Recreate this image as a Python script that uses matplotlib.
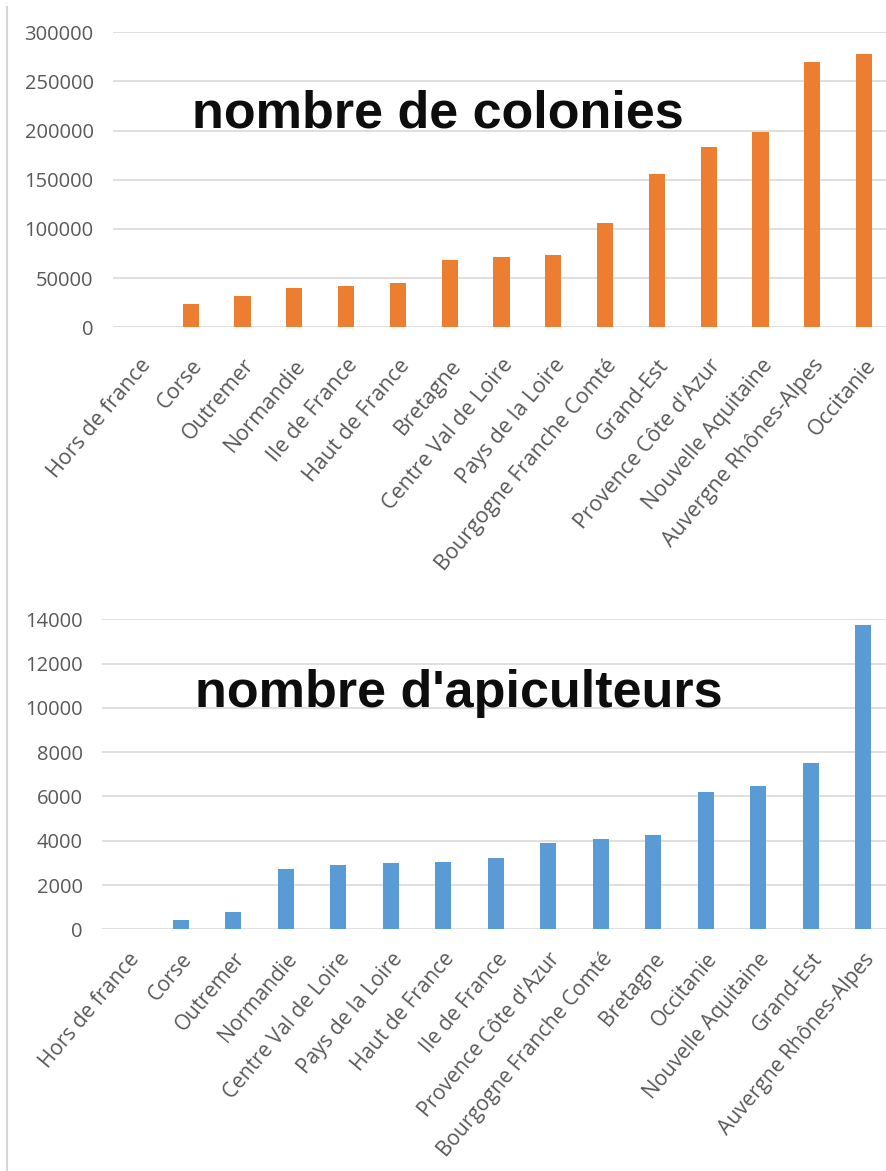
import matplotlib
matplotlib.use('Agg')
from matplotlib import pyplot as plt
from matplotlib.lines import Line2D

# top chart: nombre de colonies
regions_col = ["Hors de france", "Corse", "Outremer", "Normandie", "Ile de France",
               "Haut de France", "Bretagne", "Centre Val de Loire", "Pays de la Loire",
               "Bourgogne Franche Comté", "Grand-Est", "Provence Côte d'Azur",
               "Nouvelle Aquitaine", "Auvergne Rhônes-Alpes", "Occitanie"]
colonies = [0, 23500, 31600, 39800, 41800, 44600, 68700, 71700, 73500,
            105800, 155800, 183000, 198600, 269700, 278200]
ticks_col = [0, 50000, 100000, 150000, 200000, 250000, 300000]

# bottom chart: nombre d'apiculteurs
regions_api = ["Hors de france", "Corse", "Outremer", "Normandie", "Centre Val de Loire",
               "Pays de la Loire", "Haut de France", "Ile de France", "Provence Côte d'Azur",
               "Bourgogne Franche Comté", "Bretagne", "Occitanie", "Nouvelle Aquitaine",
               "Grand-Est", "Auvergne Rhônes-Alpes"]
apiculteurs = [0, 420, 800, 2710, 2890, 3000, 3050, 3200, 3890, 4070, 4260,
               6220, 6470, 7500, 13740]
ticks_api = [0, 2000, 4000, 6000, 8000, 10000, 12000, 14000]

W, H = 886, 1171
grey_txt = '#595959'
grid_col = '#d9d9d9'

fig = plt.figure(figsize=(W/100, H/100), dpi=100)


def px_axes(left, top, right, bottom):
    return fig.add_axes([left/W, 1 - bottom/H, (right-left)/W, (bottom-top)/H])


def draw(ax, names, vals, ticks, color, spacing, left_px, right_px, lab_size, lab_pad):
    x = range(len(names))
    ax.bar(x, vals, width=0.31, color=color, zorder=3)
    ax.set_xlim(-0.5, -0.5 + (right_px - left_px)/spacing)
    ax.set_ylim(0, ticks[-1])
    ax.set_yticks(ticks)
    ax.set_yticklabels([str(t) for t in ticks], fontsize=14.5, color=grey_txt,
                       family='Open Sans')
    ax.set_xticks(list(x))
    ax.set_xticklabels(names, rotation=50, ha='right', va='top',
                       rotation_mode='anchor', fontsize=lab_size, color=grey_txt,
                       family='Open Sans')
    ax.tick_params(axis='y', length=0, pad=14)
    ax.tick_params(axis='x', length=0, pad=lab_pad)
    for s in ax.spines.values():
        s.set_visible(False)
    ax.grid(axis='y', color=grid_col, linewidth=1.2, zorder=0)
    ax.set_axisbelow(True)


ax1 = px_axes(113, 32.3, 886, 327.3)
draw(ax1, regions_col, colonies, ticks_col, '#ED7D31', 51.8, 113, 886, 15.5, 20)

ax2 = px_axes(102, 619.3, 886, 929.3)
draw(ax2, regions_api, apiculteurs, ticks_api, '#5B9BD5', 52.5, 102, 886, 15, 14)

fig.text(192/W, 1 - 127/H, "nombre de colonies", fontsize=37.5, fontweight='bold',
         family='Liberation Sans', color='#0d0d0d', ha='left', va='baseline')
fig.text(195/W, 1 - 707/H, "nombre d'apiculteurs", fontsize=37.5, fontweight='bold',
         family='Liberation Sans', color='#0d0d0d', ha='left', va='baseline')

# thin frame line on the left
fig.add_artist(Line2D([7/W, 7/W], [0, 1 - 7/H], color='#d4d4d4', linewidth=1.5))

plt.savefig('out.png', dpi=100)
